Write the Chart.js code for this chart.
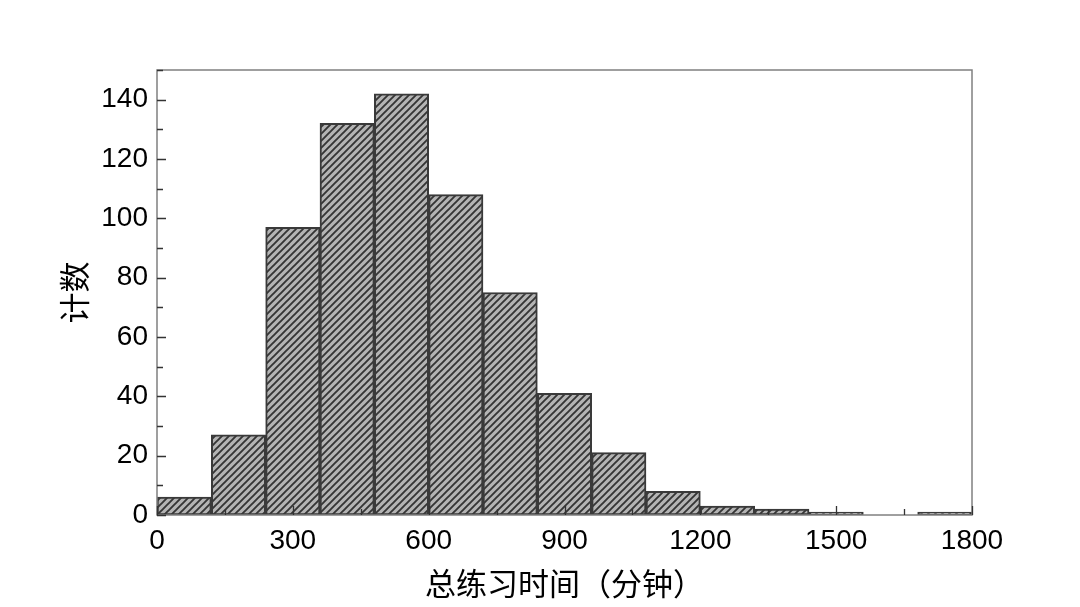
<!DOCTYPE html>
<html>
<head>
<meta charset="utf-8">
<script src="https://cdn.jsdelivr.net/npm/chart.js@4"></script>
<style>
  html, body { margin: 0; padding: 0; background: #fff; }
  #wrap { width: 1080px; height: 607px; }
</style>
</head>
<body>
<div id="wrap"><canvas id="histChart" width="1080" height="607"></canvas></div>
<script>
// bins of 120 minutes, 0 - 1800
const binStarts = [0, 120, 240, 360, 480, 600, 720, 840, 960, 1080, 1200, 1320, 1440, 1560, 1680];
const counts = [6, 27, 97, 132, 142, 108, 75, 41, 21, 8, 3, 2, 1, 0, 1];
const binWidth = 120;
const xTicks = [0, 300, 600, 900, 1200, 1500, 1800];
const yTicks = [0, 20, 40, 60, 80, 100, 120, 140];

const numFont = 'Liberation Sans, Arial, sans-serif';
const cjkFont = '"Noto Sans CJK SC", sans-serif';

function hatch(ctx) {
    let s = 7;
    let c = document.createElement('canvas');
    c.width = s; c.height = s;
    let g = c.getContext('2d');
    g.fillStyle = '#b4b4b4';
    g.fillRect(0, 0, s, s);
    g.strokeStyle = '#353535';
    g.lineWidth = 1.9;
    g.beginPath();
    g.moveTo(-1, s + 1); g.lineTo(s + 1, -1);
    g.moveTo(-1, 1); g.lineTo(1, -1);
    g.moveTo(s - 1, s + 1); g.lineTo(s + 1, s - 1);
    g.stroke();
    return ctx.createPattern(c, 'repeat');
}

// frame + inward ticks
const frameTicks = {
    id: 'frameTicks',
    afterDraw(chart) {
        let {ctx, chartArea: a, scales} = chart;
        ctx.save();
        ctx.strokeStyle = '#808080';
        ctx.lineWidth = 1.5;
        ctx.strokeRect(a.left, a.top, a.right - a.left, a.bottom - a.top);
        ctx.strokeStyle = '#333';
        ctx.lineWidth = 1.3;
        ctx.beginPath();
        for (let v = 0; v <= 150; v += 10) {
            let y = Math.round(scales.y.getPixelForValue(v)) + 0.5;
            let len = v % 20 === 0 ? 9 : 6;
            ctx.moveTo(a.left, y); ctx.lineTo(a.left + len, y);
        }
        for (let v = 0; v <= 1800; v += 150) {
            let x = Math.round(scales.x.getPixelForValue(v)) + 0.5;
            let len = v % 300 === 0 ? 9 : 6;
            ctx.moveTo(x, a.bottom); ctx.lineTo(x, a.bottom - len);
        }
        ctx.stroke();
        ctx.restore();
    }
};

let ctx = document.getElementById('histChart').getContext('2d');
new Chart(ctx, {
    type: 'bar',
    data: {
        datasets: [{
            label: '计数',
            data: binStarts.map((b, i) => ({ x: b + binWidth / 2, y: counts[i] })),
            backgroundColor: hatch(ctx),
            borderColor: '#3a3a3a',
            borderWidth: 2,
            borderSkipped: false,
            barPercentage: 1,
            categoryPercentage: 1
        }]
    },
    options: {
        responsive: false,
        animation: false,
        layout: { padding: { top: 70, right: 108, left: 0, bottom: 0 } },
        plugins: { legend: { display: false }, tooltip: { enabled: false } },
        scales: {
            x: {
                type: 'linear',
                offset: false,
                min: 0, max: 1800,
                afterBuildTicks: s => { s.ticks = xTicks.map(v => ({ value: v })); },
                afterFit: s => { s.height = 92; },
                grid: { display: false, drawTicks: false, offset: false },
                border: { display: false },
                ticks: { color: '#000', font: { family: numFont, size: 28 }, padding: 9, maxRotation: 0,
                         callback: v => String(v) },
                title: { display: true, text: '总练习时间（分钟）', color: '#000',
                         font: { family: cjkFont, size: 31 }, padding: { bottom: 5, top: 0 } }
            },
            y: {
                min: 0, max: 150,
                afterBuildTicks: s => { s.ticks = yTicks.map(v => ({ value: v })); },
                afterFit: s => { s.width = 157; },
                grid: { display: false, drawTicks: false },
                border: { display: false },
                ticks: { color: '#000', font: { family: numFont, size: 28 }, padding: 9 },
                title: { display: true, text: '计数', color: '#000',
                         font: { family: cjkFont, size: 31 }, padding: { top: 56, bottom: 0 } }
            }
        }
    },
    plugins: [frameTicks]
});
</script>
</body>
</html>
